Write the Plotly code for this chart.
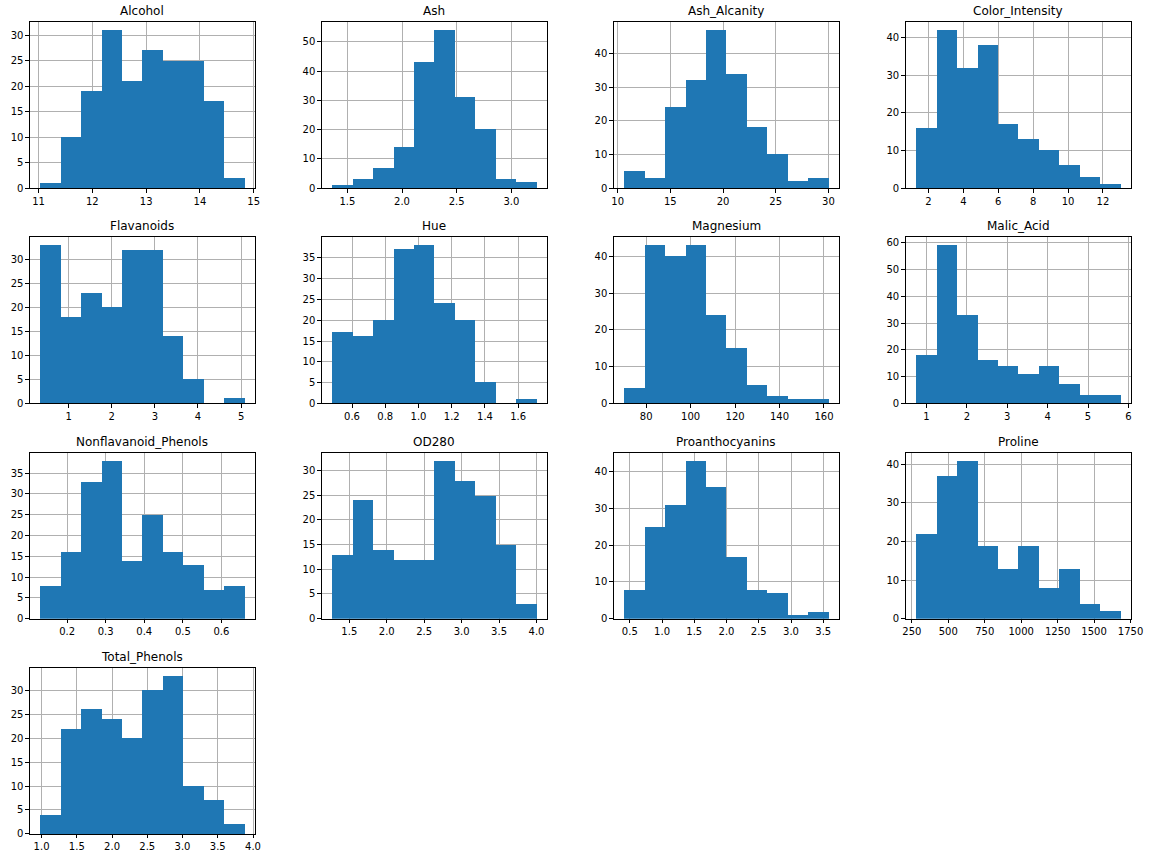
import numpy as np
import plotly.graph_objects as go

# Data: histogram counts (10 bins between min and max of each column)
columns = ["Alcohol", "Ash", "Ash_Alcanity", "Color_Intensity",
           "Flavanoids", "Hue", "Magnesium", "Malic_Acid",
           "Nonflavanoid_Phenols", "OD280", "Proanthocyanins", "Proline",
           "Total_Phenols"]
mins = [11.03, 1.36, 10.6, 1.28, 0.34, 0.48, 70, 0.74, 0.13, 1.27, 0.41, 278, 0.98]
maxs = [14.83, 3.23, 30.0, 13.0, 5.08, 1.71, 162, 5.80, 0.66, 4.00, 3.58, 1680, 3.88]
counts = [
    [1, 10, 19, 31, 21, 27, 25, 25, 17, 2],
    [1, 3, 7, 14, 43, 54, 31, 20, 3, 2],
    [5, 3, 24, 32, 47, 34, 18, 10, 2, 3],
    [16, 42, 32, 38, 17, 13, 10, 6, 3, 1],
    [33, 18, 23, 20, 32, 32, 14, 5, 0, 1],
    [17, 16, 20, 37, 38, 24, 20, 5, 0, 1],
    [4, 43, 40, 43, 24, 15, 5, 2, 1, 1],
    [18, 59, 33, 16, 14, 11, 14, 7, 3, 3],
    [8, 16, 33, 38, 14, 25, 16, 13, 7, 8],
    [13, 24, 14, 12, 12, 32, 28, 25, 15, 3],
    [8, 25, 31, 43, 36, 17, 8, 7, 1, 2],
    [22, 37, 41, 19, 13, 19, 8, 13, 4, 2],
    [4, 22, 26, 24, 20, 30, 33, 10, 7, 2],
]
x_dticks = [1, 0.5, 5, 2, 1, 0.2, 20, 1, 0.1, 0.5, 0.5, 250, 0.5]
x_formats = [".0f", ".1f", ".0f", ".0f", ".0f", ".1f", ".0f", ".0f", ".1f", ".1f", ".1f", ".0f", ".1f"]
y_dticks = [5, 10, 10, 10, 5, 5, 10, 10, 5, 5, 10, 10, 5]

W, H = 1162, 862
col_left = [27.3, 323.3, 619.3, 915.3]
ax_w = 228
row_top = [22.3, 238.8, 455.3, 671.8]
ax_h = 167

fig = go.Figure()
annotations = []
for i, name in enumerate(columns):
    r, c = divmod(i, 4)
    edges = np.linspace(mins[i], maxs[i], 11)
    centers = (edges[:-1] + edges[1:]) / 2
    widths = np.diff(edges)
    suffix = "" if i == 0 else str(i + 1)
    fig.add_trace(go.Bar(x=centers, y=counts[i], width=widths,
                         marker=dict(color="#1f77b4", line=dict(width=0)),
                         xaxis="x" + suffix, yaxis="y" + suffix,
                         showlegend=False, hoverinfo="x+y"))
    x0 = col_left[c] / W
    x1 = (col_left[c] + ax_w) / W
    y1 = 1 - row_top[r] / H
    y0 = 1 - (row_top[r] + ax_h) / H
    span = maxs[i] - mins[i]
    common = dict(showline=True, linecolor="black", linewidth=1, mirror=True,
                  ticks="outside", ticklen=3.5, tickwidth=0.8, tickcolor="black",
                  showgrid=True, gridcolor="#b0b0b0", gridwidth=0.8,
                  zeroline=False, layer="above traces",
                  tickfont=dict(family="DejaVu Sans", size=10, color="black"))
    fig.layout["xaxis" + suffix] = dict(
        domain=[x0, x1], anchor="y" + suffix,
        range=[mins[i] - 0.05 * span, maxs[i] + 0.05 * span],
        tick0=0, dtick=x_dticks[i], tickformat=x_formats[i], **common)
    fig.layout["yaxis" + suffix] = dict(
        domain=[y0, y1], anchor="x" + suffix,
        range=[0, max(counts[i]) * 1.05],
        tick0=0, dtick=y_dticks[i], **common)
    annotations.append(dict(text=name, x=(x0 + x1) / 2, y=y1, xref="paper", yref="paper",
                            xanchor="center", yanchor="bottom", yshift=2, showarrow=False,
                            font=dict(family="DejaVu Sans", size=12, color="black")))

fig.update_layout(width=W, height=H, margin=dict(l=0, r=0, t=0, b=0),
                  paper_bgcolor="white", plot_bgcolor="white",
                  annotations=annotations, bargap=0)
fig.write_html("out.html", config={"displayModeBar": False},
               post_script="document.body.style.margin='0';document.body.style.overflow='hidden';")
